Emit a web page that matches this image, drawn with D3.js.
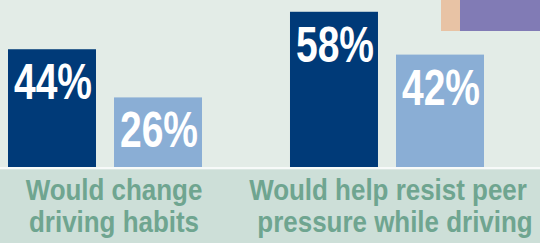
<!DOCTYPE html>
<html>
<head>
<meta charset="utf-8">
<script src="https://cdn.jsdelivr.net/npm/d3@7"></script>
<style>
  html, body { margin: 0; padding: 0; background: #e3ece7; }
  svg { display: block; }
</style>
</head>
<body>
<svg id="chart" width="540" height="243"></svg>
<script>
// data
const categories = ["Would change driving habits", "Would help resist peer pressure while driving"];
const labelLines = [["Would change", "driving habits"], ["Would help resist peer", "pressure while driving"]];
const series = ["dark", "light"];
const seriesColors = ["#003a78", "#8aaed5"];
const values = [[44, 26], [58, 42]];
const legendColors = ["#e8c3a5", "#817bb5"];

const W = 540, H = 243, base = 167;
const font = "'Liberation Sans', Arial, sans-serif";
const svg = d3.select("#chart");

svg.append("rect").attr("width", W).attr("height", H).attr("fill", "#e3ece7");
svg.append("rect").attr("y", base).attr("width", W).attr("height", H - base).attr("fill", "#cddfd8");
svg.append("rect").attr("y", base).attr("width", W).attr("height", 2.3).attr("fill", "#f7faf9");

const x0 = d3.scaleBand().domain(categories).range([8, 484]).paddingInner(0.312);
const x1 = d3.scaleBand().domain(series).range([0, x0.bandwidth()]).paddingInner(0.17);
const y = d3.scaleLinear().domain([0, 62.4]).range([base, 0]);

const grp = svg.selectAll(".grp").data(categories).enter().append("g")
  .attr("transform", d => `translate(${x0(d)},0)`);

const bars = grp.selectAll(".bar").data((d, i) => values[i].map((v, j) => ({ v, s: series[j], j })))
  .enter();

bars.append("rect")
  .attr("x", d => x1(d.s)).attr("width", x1.bandwidth())
  .attr("y", d => y(d.v)).attr("height", d => base - y(d.v))
  .attr("fill", d => seriesColors[d.j]);

// condensed look: squeeze the bold face horizontally
bars.append("g")
  .attr("transform", d => `translate(${x1(d.s) + x1.bandwidth() / 2 + 1},${y(d.v) + 50}) scale(0.78,1)`)
  .append("text")
  .attr("text-anchor", "middle")
  .attr("fill", "#fff")
  .style("font-family", font)
  .style("font-weight", "bold").style("font-size", "50px")
  .text(d => d.v + "%");

// category labels
const cx = [x0(categories[0]) + x0.bandwidth() / 2 + 9, x0(categories[1]) + x0.bandwidth() / 2 + 1];
const lineShift = [[0, 0], [0, 7]];
const lab = svg.selectAll(".cat").data(categories).enter().append("g")
  .attr("transform", (d, i) => `translate(${cx[i]},0) scale(0.895,1)`)
  .append("text")
  .attr("text-anchor", "middle")
  .attr("fill", "#6fa590")
  .style("font-family", font)
  .style("font-weight", "bold").style("font-size", "29px");
lab.selectAll("tspan").data((d, i) => labelLines[i].map((t, k) => ({ t, dx: lineShift[i][k] }))).enter().append("tspan")
  .attr("x", d => d.dx / 0.895)
  .attr("y", (d, i) => 200.5 + i * 32)
  .text(d => d.t);

// legend swatches (cut off at top right)
const lx = d3.scaleOrdinal().domain([0, 1]).range([441, 460]);
svg.selectAll(".leg").data(legendColors).enter().append("rect")
  .attr("x", (d, i) => lx(i)).attr("y", 0)
  .attr("width", (d, i) => i === 0 ? 19 : 80).attr("height", 31)
  .attr("fill", d => d);
</script>
</body>
</html>
